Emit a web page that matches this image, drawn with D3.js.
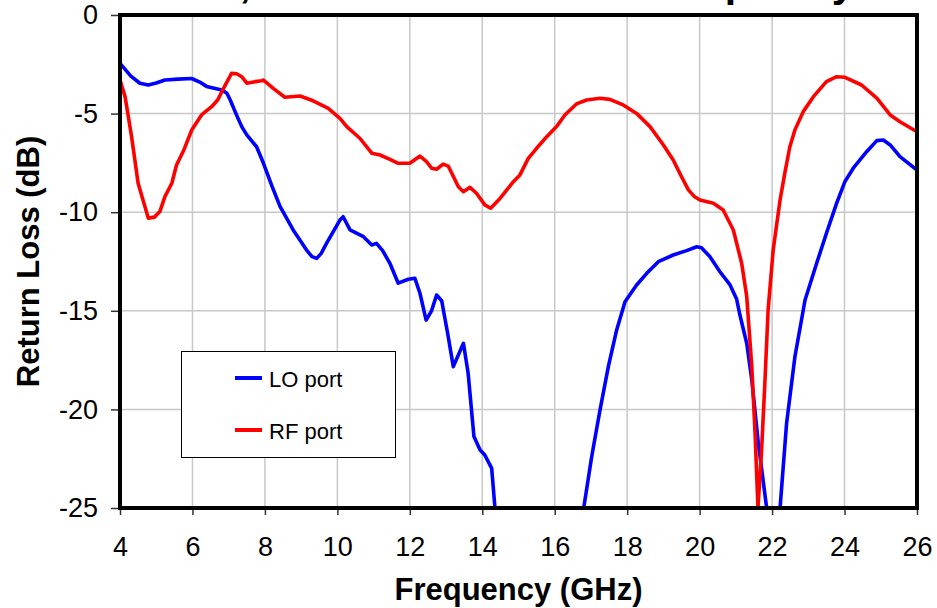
<!DOCTYPE html>
<html>
<head>
<meta charset="utf-8">
<script src="https://cdn.jsdelivr.net/npm/d3@7"></script>
<style>
  html, body { margin: 0; padding: 0; background: #fff; }
  svg { display: block; font-family: "Liberation Sans", Arial, Helvetica, sans-serif; }
</style>
</head>
<body>
<svg id="chart" width="937" height="608"></svg>
<script>
// ---- Data ----
const chartTitle = "LO, RF Return Loss vs. Frequency";
const xLabel = "Frequency (GHz)";
const yLabel = "Return Loss (dB)";
const xTicks = [4, 6, 8, 10, 12, 14, 16, 18, 20, 22, 24, 26];
const yTicks = [0, -5, -10, -15, -20, -25];
const seriesNames = ["LO port", "RF port"];
const seriesColors = ["#0000ff", "#ff0000"];

// LO port (null marks where the trace falls below the -25 dB axis limit)
const loFreq = [4.0, 4.3, 4.55, 4.78, 5.0, 5.24, 5.6, 5.98, 6.2, 6.39, 6.81, 6.95, 7.04, 7.2, 7.36, 7.5, 7.77, 7.96, 8.2, 8.42,
  8.78, 9.15, 9.3, 9.43, 9.55, 9.7, 10.07, 10.16, 10.35, 10.72, 10.95, 11.08, 11.25, 11.45, 11.68, 11.96, 12.14, 12.28, 12.45, 12.6,
  12.74, 12.88, 13.05, 13.2, 13.48, 13.61, 13.77, 13.94, 14.07, 14.26, 14.35, 15.5, 16.8, 17.02, 17.25, 17.48, 17.71, 17.94, 18.26, 18.54,
  18.86, 19.27, 19.64, 19.92, 20.05, 20.28, 20.56, 20.84, 21.02, 21.11, 21.3, 21.44, 21.62, 21.85, 22.0, 22.22, 22.4, 22.63, 22.91, 23.23,
  23.5, 23.78, 24.01, 24.24, 24.61, 24.89, 25.07, 25.26, 25.53, 26.0];
const loDb = [-2.45, -3.1, -3.46, -3.55, -3.45, -3.3, -3.25, -3.22, -3.4, -3.62, -3.8, -3.97, -4.3, -5.0, -5.66, -6.08, -6.68, -7.52, -8.7, -9.72,
  -10.9, -11.92, -12.25, -12.34, -12.1, -11.58, -10.4, -10.23, -10.9, -11.24, -11.66, -11.58, -11.95, -12.59, -13.6, -13.4, -13.35, -14.11, -15.47, -15.0,
  -14.2, -14.49, -16.2, -17.83, -16.65, -18.17, -21.38, -22.06, -22.31, -22.99, -25, null, -25, -22.4, -20.03, -17.83, -15.97, -14.54, -13.69, -13.1,
  -12.51, -12.17, -11.95, -11.75, -11.8, -12.25, -13.02, -13.69, -14.4, -15.2, -16.65, -18.51, -21.72, -25, null, -25, -20.71, -17.33, -14.45, -12.59,
  -11.07, -9.55, -8.45, -7.77, -6.93, -6.37, -6.34, -6.59, -7.18, -7.86];

// RF port
const rfFreq = [4.0, 4.14, 4.32, 4.5, 4.78, 4.95, 5.1, 5.24, 5.43, 5.56, 5.75, 5.98, 6.25, 6.53, 6.7, 6.81, 6.95, 7.08, 7.22, 7.36,
  7.5, 7.73, 7.91, 7.96, 8.23, 8.55, 8.97, 9.33, 9.75, 10.07, 10.26, 10.62, 10.95, 11.18, 11.45, 11.68, 12.0, 12.28, 12.46, 12.6,
  12.74, 12.92, 13.06, 13.34, 13.48, 13.66, 13.84, 14.07, 14.23, 14.49, 14.86, 15.04, 15.27, 15.5, 15.78, 16.05, 16.28, 16.6, 16.88, 17.25,
  17.52, 17.89, 18.26, 18.63, 19.0, 19.27, 19.5, 19.69, 19.85, 20.01, 20.38, 20.65, 20.93, 21.16, 21.3, 21.44, 21.53, 21.61, 21.71, 21.8,
  21.89, 22.03, 22.22, 22.35, 22.49, 22.63, 22.86, 23.14, 23.5, 23.78, 24.01, 24.47, 24.89, 25.26, 25.53, 26.0];
const rfDb = [-3.3, -4.14, -6.17, -8.53, -10.3, -10.25, -9.97, -9.21, -8.53, -7.61, -6.9, -5.83, -5.07, -4.65, -4.3, -3.89, -3.4, -2.96, -2.98, -3.13,
  -3.46, -3.38, -3.33, -3.3, -3.72, -4.17, -4.11, -4.35, -4.73, -5.24, -5.66, -6.25, -7.01, -7.1, -7.32, -7.52, -7.52, -7.15, -7.44, -7.77,
  -7.82, -7.56, -7.66, -8.71, -8.96, -8.74, -9.04, -9.63, -9.8, -9.3, -8.45, -8.11, -7.27, -6.76, -6.17, -5.66, -5.07, -4.51, -4.31, -4.22,
  -4.28, -4.56, -4.99, -5.66, -6.59, -7.35, -8.2, -8.87, -9.2, -9.38, -9.55, -9.89, -10.9, -12.59, -14.28, -17.83, -21.21, -25, -22.06, -18.68,
  -14.96, -11.92, -9.38, -8.03, -6.68, -5.83, -4.9, -4.14, -3.38, -3.13, -3.16, -3.55, -4.22, -5.07, -5.41, -5.92];

// ---- Layout ----
const W = 937, H = 608;
const plot = { left: 120, right: 917, top: 15, bottom: 508 };

const svg = d3.select("#chart");

const x = d3.scaleLinear().domain([4, 26]).range([plot.left, plot.right]);
const y = d3.scaleLinear().domain([-25, 0]).range([plot.bottom, plot.top]);

// Title (only its descenders show above the frame, as in the reference)
svg.append("text")
  .attr("x", (plot.left + plot.right) / 2)
  .attr("y", -3)
  .attr("text-anchor", "middle")
  .attr("font-weight", "bold")
  .attr("font-size", 41)
  .attr("fill", "#000")
  .text(chartTitle);

// Gridlines
const grid = svg.append("g");
grid.selectAll("line.vx")
  .data(xTicks.filter(t => t > 4 && t < 26))
  .join("line")
  .attr("x1", d => x(d)).attr("x2", d => x(d))
  .attr("y1", plot.top).attr("y2", plot.bottom)
  .attr("stroke", "#c8c8c8").attr("stroke-width", 1.5);
grid.selectAll("line.hy")
  .data(yTicks.filter(t => t < 0 && t > -25))
  .join("line")
  .attr("x1", plot.left).attr("x2", plot.right)
  .attr("y1", d => y(d)).attr("y2", d => y(d))
  .attr("stroke", "#c8c8c8").attr("stroke-width", 1.5);

// Axes
const fmt = d => String(d);
const xAxis = d3.axisBottom(x).tickValues(xTicks).tickSize(7).tickPadding(22).tickFormat(fmt);
const yAxis = d3.axisLeft(y).tickValues(yTicks).tickSize(9).tickPadding(13).tickFormat(fmt);

const gx = svg.append("g").attr("transform", `translate(0,${plot.bottom})`).call(xAxis);
const gy = svg.append("g").attr("transform", `translate(${plot.left},0)`).call(yAxis);
[gx, gy].forEach(g => {
  g.select(".domain").remove();
  g.selectAll(".tick line").attr("stroke", "#333").attr("stroke-width", 1.5);
  g.selectAll(".tick text").attr("font-size", 27).attr("fill", "#000")
    .attr("font-family", "'Liberation Sans', Arial, sans-serif");
});
gx.selectAll(".tick text").attr("dy", "0.71em");

// Clip for data
svg.append("clipPath").attr("id", "plotclip")
  .append("rect")
  .attr("x", plot.left).attr("y", plot.top)
  .attr("width", plot.right - plot.left).attr("height", plot.bottom - plot.top);

const line = d3.line()
  .defined(d => d[1] !== null)
  .x(d => x(d[0]))
  .y(d => y(d[1]));

const loData = loFreq.map((f, i) => [f, loDb[i]]);
const rfData = rfFreq.map((f, i) => [f, rfDb[i]]);

const lines = svg.append("g").attr("clip-path", "url(#plotclip)");
[loData, rfData].forEach((data, i) => {
  lines.append("path")
    .datum(data)
    .attr("d", line)
    .attr("fill", "none")
    .attr("stroke", seriesColors[i])
    .attr("stroke-width", 3.6)
    .attr("stroke-linejoin", "round");
});

// Frame
svg.append("rect")
  .attr("x", plot.left).attr("y", plot.top)
  .attr("width", plot.right - plot.left).attr("height", plot.bottom - plot.top)
  .attr("fill", "none").attr("stroke", "#000").attr("stroke-width", 4);

// Axis titles
svg.append("text")
  .attr("x", (plot.left + plot.right) / 2)
  .attr("y", 600)
  .attr("text-anchor", "middle")
  .attr("font-weight", "bold")
  .attr("font-size", 31)
  .text(xLabel);

svg.append("text")
  .attr("transform", `translate(39,${(plot.top + plot.bottom) / 2}) rotate(-90)`)
  .attr("text-anchor", "middle")
  .attr("font-weight", "bold")
  .attr("font-size", 31)
  .text(yLabel);

// Legend
const legend = svg.append("g");
legend.append("rect")
  .attr("x", 181.5).attr("y", 351.5).attr("width", 214).attr("height", 106)
  .attr("fill", "#fff").attr("stroke", "#000").attr("stroke-width", 1);
const legendY = [378, 430];
seriesNames.forEach((name, i) => {
  legend.append("line")
    .attr("x1", 235).attr("x2", 262)
    .attr("y1", legendY[i]).attr("y2", legendY[i])
    .attr("stroke", seriesColors[i]).attr("stroke-width", 4);
  legend.append("text")
    .attr("x", 269).attr("y", legendY[i] + 8.5)
    .attr("font-size", 22)
    .attr("fill", "#000")
    .text(name);
});
</script>
</body>
</html>
